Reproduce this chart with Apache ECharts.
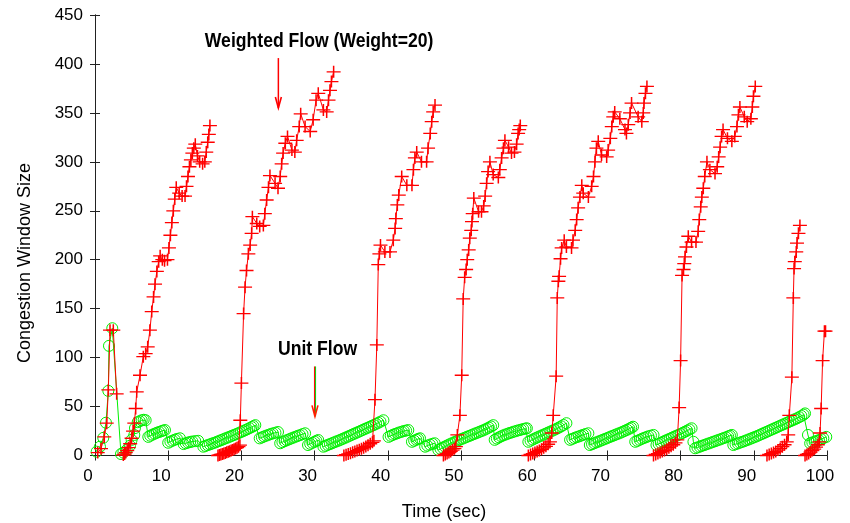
<!DOCTYPE html>
<html><head><meta charset="utf-8">
<script src="https://cdn.jsdelivr.net/npm/echarts@6/dist/echarts.min.js"></script>
<style>html,body{margin:0;padding:0;background:#fff}#c{width:850px;height:523px}</style>
</head><body><div id="c"></div>
<script>
// ---- axis ticks ----
const xTicks = [0,10,20,30,40,50,60,70,80,90,100];
const yTicks = [0,50,100,150,200,250,300,350,400,450];

// ---- Unit flow (green circles) : [time, cwnd] ----
const unitFlow = [
[0.23,3.9],[0.68,9],[1.13,18],[1.5,33.5],[1.82,66],[1.91,112],[2.36,130],
[3.55,1.5],[3.87,3],[4.33,5.6],[4.78,10],[5.0,16],[5.37,21],[5.46,28],[5.83,34],[6.1,35],[6.38,36],[6.65,36.5],[6.92,36],
[7.28,19],[7.55,20.2],[7.85,21.3],[8.15,22.3],[8.45,23.2],[8.75,24],[9.05,24.8],[9.3,25.4],[9.56,26],
[10.0,13],[10.3,14.2],[10.6,15.2],[10.9,16.1],[11.2,16.9],[11.6,17.6],
[12.1,11.7],[12.4,12.5],[12.7,13.2],[13.0,13.8],[13.3,14.3],[13.7,14.7],[14.1,15],
[14.8,9],[15.1,9.8],[15.4,10.6],[15.7,11.4],[16.0,12.2],[16.3,13],[16.6,13.8],[16.9,14.7],[17.2,15.6],[17.5,16.5],[17.8,17.4],[18.1,18.3],[18.4,19.2],[18.7,20.1],[19.0,21],[19.3,21.9],[19.6,22.8],[19.9,23.8],[20.2,24.8],[20.5,25.8],[20.8,26.8],[21.1,27.9],[21.4,29],[21.65,30],[21.9,31],
[22.5,17.5],[22.8,18.5],[23.1,19.4],[23.4,20.3],[23.7,21.1],[24.0,21.9],[24.3,22.6],[24.65,23.3],[25.0,24],
[25.3,12.5],[25.6,13.6],[25.9,14.6],[26.2,15.6],[26.5,16.5],[26.8,17.4],[27.1,18.3],[27.4,19.2],[27.7,20],[28.0,20.8],[28.35,21.8],[28.7,22.7],
[29.1,10.7],[29.4,11.9],[29.7,13],[30.0,14],[30.25,15],[30.5,15.8],
[31.2,9],[31.5,9.9],[31.8,10.8],[32.1,11.7],[32.4,12.6],[32.7,13.5],[33.0,14.4],[33.3,15.3],[33.6,16.2],[33.9,17.2],[34.2,18.2],[34.5,19.2],[34.8,20.2],[35.1,21.2],[35.4,22.2],[35.7,23.2],[36.0,24.2],[36.3,25.2],[36.6,26.2],[36.9,27.2],[37.2,28.2],[37.5,29.2],[37.8,30.2],[38.1,31.2],[38.4,32.3],[38.7,33.4],[39.0,34.6],[39.4,36],
[40.1,19],[40.4,20.1],[40.7,21.1],[41.0,22],[41.3,22.8],[41.6,23.6],[41.9,24.3],[42.2,25],[42.5,25.5],[42.8,26],
[43.3,14],[43.6,15.1],[43.9,16.1],[44.15,16.9],[44.4,17.6],
[45.1,9],[45.4,10.1],[45.75,11.1],[46.1,11.9],[46.4,12.5],
[46.9,5.6],[47.2,6.8],[47.5,8],[47.8,9.1],[48.1,10.2],[48.4,11.3],[48.7,12.3],[49.0,13.3],[49.3,14.3],[49.6,15.3],[49.9,16.3],[50.2,17.2],[50.5,18.1],[50.8,19],[51.1,19.9],[51.4,20.8],[51.7,21.7],[52.0,22.6],[52.3,23.5],[52.6,24.4],[52.9,25.3],[53.2,26.3],[53.5,27.4],[53.8,28.5],[54.1,29.7],[54.4,31],
[54.6,16],[54.9,17.3],[55.2,18.5],[55.5,19.6],[55.8,20.6],[56.1,21.5],[56.4,22.3],[56.7,23.1],[57.0,23.8],[57.3,24.5],[57.6,25.2],[57.9,25.8],[58.2,26.4],[58.5,27],[58.8,27.5],[59.0,27.8],
[59.2,14],[59.5,15.2],[59.8,16.3],[60.1,17.4],[60.4,18.4],[60.7,19.4],[61.0,20.4],[61.3,21.4],[61.6,22.4],[61.9,23.4],[62.2,24.4],[62.5,25.4],[62.8,26.4],[63.1,27.5],[63.4,28.6],[63.7,29.8],[64.0,31.2],[64.4,33],
[64.9,16],[65.2,17],[65.5,17.9],[65.8,18.7],[66.1,19.5],[66.4,20.3],[66.7,21.1],[67.0,21.9],[67.4,22.7],
[67.6,10.7],[67.9,11.6],[68.2,12.5],[68.5,13.4],[68.8,14.3],[69.1,15.2],[69.4,16.1],[69.7,17],[70.0,17.9],[70.3,18.8],[70.6,19.7],[70.9,20.6],[71.2,21.5],[71.5,22.4],[71.8,23.3],[72.1,24.3],[72.4,25.3],[72.7,26.3],[73.0,27.4],[73.25,28.4],[73.5,29.4],
[73.8,14],[74.1,15],[74.4,16],[74.7,17],[75.0,17.9],[75.3,18.8],[75.6,19.6],[75.95,20.3],[76.3,21],
[76.7,10.7],[77.0,11.8],[77.3,12.9],[77.6,14],[77.9,15.1],[78.2,16.1],[78.5,17.1],[78.8,18.1],[79.1,19.1],[79.4,20.1],[79.7,21.1],[80.0,22.1],[80.3,23.2],[80.6,24.3],[80.9,25.4],[81.2,26.6],[81.5,27.8],
[81.75,14],[82.0,7.4],[82.3,8.2],[82.6,9],[82.9,9.8],[83.2,10.6],[83.5,11.4],[83.8,12.2],[84.1,13],[84.4,13.8],[84.7,14.6],[85.0,15.4],[85.3,16.2],[85.6,17],[85.9,17.8],[86.2,18.6],[86.5,19.5],[86.75,20.2],[87.0,21],
[87.2,10.7],[87.5,11.5],[87.8,12.3],[88.1,13.1],[88.4,13.9],[88.7,14.7],[89.0,15.5],[89.3,16.4],[89.6,17.3],[89.9,18.2],[90.2,19.1],[90.5,20],[90.8,21],[91.1,22],[91.4,23],[91.7,24],[92.0,25],[92.3,26],[92.6,27],[92.9,28],[93.2,29],[93.5,30],[93.8,31],[94.1,32],[94.4,33],[94.7,34],[95.0,35],[95.3,36],[95.6,37],[95.9,38],[96.2,39.2],[96.5,40.4],[96.8,41.7],[97.0,43],
[97.4,21],[97.7,12.5],[98.0,13.3],[98.3,14.1],[98.6,14.9],[98.9,15.7],[99.2,16.6],[99.5,17.6],[99.9,19]
];

// ---- Weighted flow (red plus) : [time, cwnd], '-' marks a break ----
const weightedFlow = [
[0.37,3],[0.82,7],[1.27,19],[1.6,33],[1.82,67],[2.05,128],[2.5,128],[2.96,63],[3.4,'-'],
[3.87,0.5],[4.05,1.5],[4.2,3],[4.4,5],[4.6,8],[4.8,12],[5.0,17.6],[5.2,25],[5.37,33],[5.56,48],[5.7,65],[6.15,82],[6.6,101],[6.92,104],[7.2,111],[7.5,128],[7.75,147],[8.0,162],[8.2,175],[8.45,188],[8.7,198],[8.9,204],[9.2,200],[9.5,199],[9.9,200],[10.1,212],[10.3,225],[10.5,238],[10.7,250],[10.9,262],[11.1,274],[11.5,268],[11.9,265],[12.3,265],[12.5,275],[12.7,285],[12.9,295],[13.1,302],[13.3,309],[13.5,314],[13.7,318],[14.0,306],[14.3,300],[14.7,298],[15.0,300],[15.2,310],[15.4,320],[15.55,328],[15.7,337],[16.2,'-'],
[16.8,0],[17.0,0.5],[17.2,1],[17.4,1.5],[17.6,2],[17.8,2.6],[18.0,3.2],[18.2,3.8],[18.4,4.4],[18.6,5],[18.8,5.7],[19.0,6.4],[19.2,7.2],[19.4,8],[19.6,9],[19.8,10.5],[19.85,36],[20.0,74],[20.3,145],[20.5,172],[20.7,189],[20.95,206],[21.2,215],[21.4,227],[21.5,244],[22.1,237],[22.5,234],[23.0,235],[23.2,247],[23.45,261],[23.7,274],[23.9,286],[24.6,278],[25.0,273],[25.3,285],[25.5,298],[25.7,309],[26.0,319],[26.3,326],[26.9,312],[27.3,310],[27.55,322],[27.9,336],[28.1,349],[28.7,336],[29.4,331],[29.8,343],[30.2,363],[30.5,370],[31.2,353],[31.65,351],[31.9,363],[32.1,373],[32.3,382],[32.6,392],[33.2,'-'],
[34.0,0],[34.3,0.8],[34.6,1.6],[34.9,2.4],[35.2,3.2],[35.5,4],[35.8,5],[36.1,6],[36.4,7],[36.7,8],[37.0,9.2],[37.3,10.5],[37.6,12],[37.9,13.5],[38.1,15],[38.25,57],[38.5,113],[38.7,195],[38.85,206],[39.0,215],[39.6,208],[40.3,208],[40.75,220],[41.0,232],[41.1,242],[41.3,256],[41.5,266],[41.9,285],[42.6,276],[43.3,276],[43.5,292],[43.7,304],[43.95,310],[44.6,300],[45.3,300],[45.5,314],[45.8,329],[46.0,341],[46.2,351],[46.45,358],[47.0,'-'],
[47.6,0],[47.85,1],[48.1,2],[48.35,3],[48.6,4.2],[48.85,5.5],[49.1,7],[49.3,9],[49.5,21],[49.85,41],[50.1,82],[50.3,160],[50.5,182],[50.7,190],[50.85,200],[51.05,210],[51.2,222],[51.4,230],[51.5,239],[51.6,247],[51.75,263],[52.4,249],[52.8,249],[53.1,255],[53.3,265],[53.5,278],[53.7,290],[53.95,300],[54.4,287],[55.1,284],[55.3,292],[55.55,304],[55.8,314],[56.0,322],[56.5,315],[56.9,309],[57.3,310],[57.6,318],[57.8,329],[57.95,333],[58.1,337],[58.7,'-'],
[59.2,0],[59.5,1],[59.8,2],[60.1,3],[60.4,4],[60.7,5.2],[61.0,6.4],[61.3,7.8],[61.6,9.4],[61.9,11.5],[62.15,14],[62.4,23],[62.6,41],[63.0,81],[63.15,161],[63.3,178],[63.4,183],[63.6,201],[63.75,212],[64.1,220],[64.4,213],[65.1,212],[65.3,220],[65.6,230],[65.8,241],[66.0,253],[66.25,264],[66.5,276],[66.7,268],[67.4,264],[67.85,275],[68.1,285],[68.3,300],[68.5,314],[68.75,321],[69.2,307],[69.9,305],[70.1,312],[70.4,324],[70.6,336],[70.8,346],[71.0,351],[71.7,344],[72.4,333],[72.6,329],[72.85,338],[73.1,350],[73.3,360],[74.2,346],[74.7,341],[74.9,350],[75.0,360],[75.2,370],[75.4,377],[75.9,'-'],
[76.3,0],[76.6,1],[76.9,2],[77.2,3],[77.5,4],[77.8,5.2],[78.1,6.5],[78.4,8],[78.7,9.5],[79.0,11],[79.3,13],[79.55,16],[79.8,49],[80.0,97],[80.2,184],[80.4,190],[80.5,196],[80.6,203],[80.8,213],[81.05,224],[81.5,218],[82.1,218],[82.4,229],[82.55,241],[82.75,254],[82.9,264],[83.1,273],[83.3,285],[83.6,300],[84.0,292],[84.7,288],[85.0,295],[85.2,305],[85.4,315],[85.6,326],[85.8,333],[86.4,324],[87.0,321],[87.4,326],[87.7,336],[87.9,348],[88.1,356],[88.7,346],[89.1,341],[89.6,344],[89.8,356],[89.95,367],[90.2,377],[90.8,'-'],
[91.8,0],[92.1,1],[92.4,2],[92.7,3],[93.0,4],[93.3,5.5],[93.6,7],[93.9,9],[94.2,11],[94.5,14],[94.7,21],[94.85,41],[95.2,80],[95.4,161],[95.5,191],[95.6,198],[95.8,208],[95.9,217],[96.1,227],[96.3,235],[96.6,'-'],
[97.0,0],[97.25,1],[97.5,2],[97.75,3.5],[98.0,5],[98.25,6.5],[98.5,8.5],[98.75,11],[98.95,14],[99.05,23],[99.2,48],[99.4,97],[99.65,127],[99.8,127]
];

// ---- annotations (data coordinates) ----
const labelWeighted = {text:'Weighted Flow (Weight=20)', at:[15.0,423]};
const labelUnit = {text:'Unit Flow', at:[25.0,108]};
const arrowWeighted = {from:[25.05,406], to:[25.05,355]};
const arrowUnit = {from:[30.05,91], to:[30.05,40]};

const FONT = '"Liberation Sans", Arial, Helvetica, sans-serif';
const chart = echarts.init(document.getElementById('c'), null, {renderer:'canvas'});
const axisLine = {show:true, lineStyle:{color:'#222', width:1}};
const tickIn = {show:true, inside:true, length:5, lineStyle:{color:'#222', width:1}};
const xBase = {type:'value', min:xTicks[0], max:xTicks[xTicks.length-1], interval:xTicks[1]-xTicks[0], splitLine:{show:false}, axisLine, axisTick:tickIn};
const yBase = {type:'value', min:yTicks[0], max:yTicks[yTicks.length-1], interval:yTicks[1]-yTicks[0], splitLine:{show:false}, axisLine, axisTick:tickIn};

chart.setOption({
  animation:false,
  backgroundColor:'#fff',
  grid:{left:95, right:23, top:15, bottom:67.5, containLabel:false},
  xAxis:[
    Object.assign({}, xBase, {position:'bottom', axisLabel:{color:'#000', fontSize:17, fontFamily:FONT, margin:12, padding:[0,14,0,0]}}),
    Object.assign({}, xBase, {position:'top', axisLabel:{show:false}})
  ],
  yAxis:[
    Object.assign({}, yBase, {position:'left', axisLabel:{color:'#000', fontSize:17, fontFamily:FONT, margin:12}}),
    Object.assign({}, yBase, {position:'right', axisLabel:{show:false}})
  ],
  series:[
    {
      type:'line', name:'Unit Flow', xAxisIndex:0, yAxisIndex:0,
      data:unitFlow, symbol:'circle', symbolSize:11, showAllSymbol:true,
      itemStyle:{color:'rgba(0,0,0,0)', borderColor:'#00f000', borderWidth:1},
      lineStyle:{color:'#00f000', width:1}, emphasis:{disabled:true}, z:2
    },
    {
      type:'line', name:'Weighted Flow', xAxisIndex:0, yAxisIndex:0,
      data:weightedFlow, connectNulls:false,
      symbol:'path://M0,5L10,5M5,0L5,10', symbolSize:[14,12], showAllSymbol:true,
      itemStyle:{color:'#ff0000', borderColor:'#ff0000', borderWidth:1.4},
      lineStyle:{color:'#ff0000', width:1}, emphasis:{disabled:true}, z:3
    }
  ]
});

function px(p){ return chart.convertToPixel({xAxisIndex:0, yAxisIndex:0}, p); }
function arrowEls(a, headColor, lineColors){
  const f = px(a.from), t = px(a.to);
  const els = [];
  lineColors.forEach(function(lc){
    els.push({type:'line', z:10, shape:{x1:f[0]+lc.dx, y1:f[1], x2:t[0]+lc.dx, y2:t[1]}, style:{stroke:lc.c, lineWidth:lc.w}});
  });
  els.push({type:'polyline', z:11, shape:{points:[[t[0]-3,t[1]-11],[t[0],t[1]],[t[0]+3,t[1]-11]]}, style:{stroke:headColor, lineWidth:1.6, fill:null}});
  return els;
}
const pW = px(labelWeighted.at), pU = px(labelUnit.at);
const g = [];
g.push({type:'text', z:12, x:pW[0], y:pW[1], scaleX:0.88, style:{text:labelWeighted.text, font:'bold 20px '+FONT, fill:'#000', textAlign:'left', textVerticalAlign:'middle'}});
g.push({type:'text', z:12, x:pU[0], y:pU[1], scaleX:0.88, style:{text:labelUnit.text, font:'bold 20px '+FONT, fill:'#000', textAlign:'left', textVerticalAlign:'middle'}});
arrowEls(arrowWeighted, '#ff0000', [{c:'#ff0000', w:1.5, dx:0}]).forEach(function(e){g.push(e);});
arrowEls(arrowUnit, '#ff2000', [{c:'#ff0000', w:1, dx:-0.5},{c:'#00d000', w:1, dx:0.6}]).forEach(function(e){g.push(e);});
// axis titles
g.push({type:'text', z:12, x:444, y:512, style:{text:'Time (sec)', font:'18px '+FONT, fill:'#000', textAlign:'center', textVerticalAlign:'middle'}});
g.push({type:'text', z:12, x:25, y:263, rotation:Math.PI/2, style:{text:'Congestion Window Size', font:'18px '+FONT, fill:'#000', textAlign:'center', textVerticalAlign:'middle'}});
chart.setOption({graphic:g});
</script>
</body></html>
